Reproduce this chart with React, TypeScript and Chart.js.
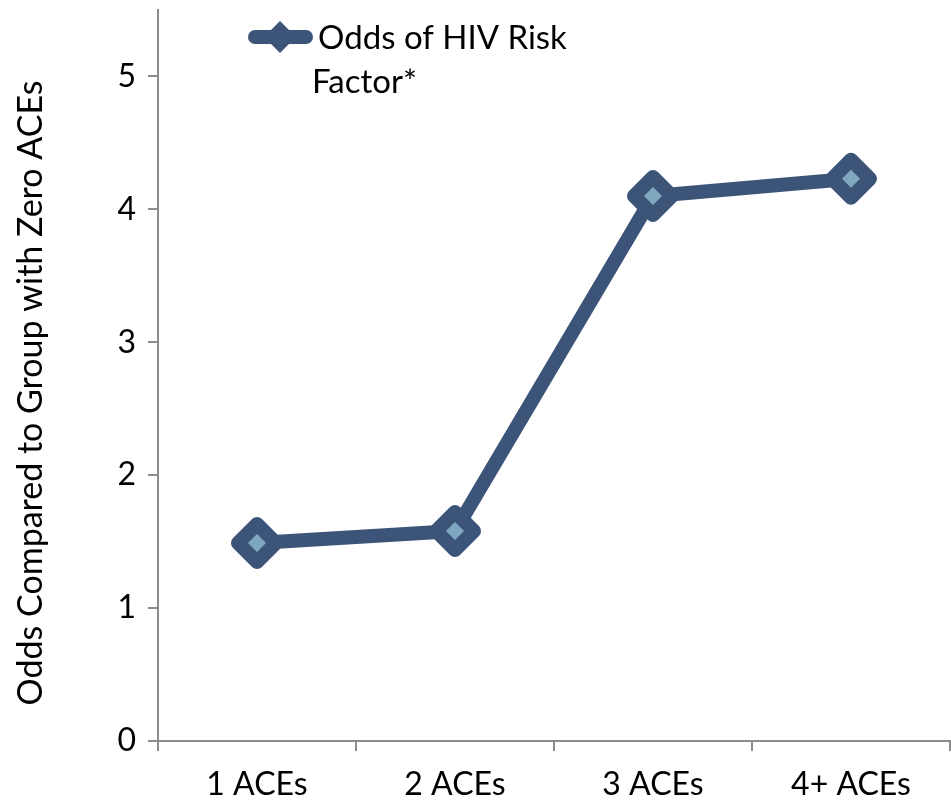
import React, { useEffect, useRef } from "react";
import { Chart, registerables } from "chart.js";

Chart.register(...registerables);

const categories = ["1 ACEs", "2 ACEs", "3 ACEs", "4+ ACEs"];
const oddsValues = [1.49, 1.58, 4.1, 4.23];
const seriesLabel = ["Odds of HIV Risk", "Factor*"];
const yTitle = "Odds Compared to Group with Zero ACEs";

const DARK = "#3B5478";
const LIGHT = "#7FA7BF";
const AXIS = "#8C8C8C";
const FONT = "Lato, 'Open Sans', sans-serif";

export default function App() {
  const ref = useRef<HTMLCanvasElement | null>(null);
  useEffect(() => {
    document.body.style.margin = "0";
    const legendPlugin = {
      id: "customLegend",
      beforeDatasetsDraw(chart: any) {
        chart.ctx.lineJoin = "round";
      },
      afterDraw(chart: any) {
        const ctx = chart.ctx;
        ctx.save();
        ctx.lineJoin = "round";
        ctx.lineCap = "round";
        ctx.strokeStyle = DARK;
        ctx.lineWidth = 14;
        ctx.beginPath();
        ctx.moveTo(255, 37);
        ctx.lineTo(306, 37);
        ctx.stroke();
        ctx.fillStyle = DARK;
        ctx.beginPath();
        ctx.moveTo(280, 21);
        ctx.lineTo(296, 37);
        ctx.lineTo(280, 53);
        ctx.lineTo(264, 37);
        ctx.closePath();
        ctx.fill();
        ctx.fillStyle = "#000";
        ctx.font = `33px ${FONT}`;
        ctx.textBaseline = "middle";
        ctx.fillText(seriesLabel[0], 318, 38);
        ctx.fillText(seriesLabel[1], 312, 82);
        // y-axis title
        ctx.translate(31, 393);
        ctx.rotate(-Math.PI / 2);
        ctx.textAlign = "center";
        ctx.font = `34px ${FONT}`;
        ctx.fillText(yTitle, 0, 0);
        ctx.restore();
      },
    };
    const chart = new Chart(ref.current!, {
      type: "line",
      data: {
        labels: categories,
        datasets: [
          {
            label: seriesLabel.join(" "),
            data: oddsValues,
            borderColor: DARK,
            borderWidth: 14,
            backgroundColor: LIGHT,
            pointStyle: "rectRot",
            pointRadius: 19,
            pointBorderWidth: 14,
            pointBorderColor: DARK,
            pointBackgroundColor: LIGHT,
            borderJoinStyle: "round",
            tension: 0,
            clip: false,
          },
        ],
      },
      options: {
        animation: false,
        responsive: false,
        maintainAspectRatio: false,
        layout: { autoPadding: false, padding: { top: 10, right: 1, left: 0, bottom: 0 } },
        plugins: { legend: { display: false }, tooltip: { enabled: false } },
        scales: {
          x: {
            offset: true,
            grid: {
              offset: true,
              drawOnChartArea: false,
              drawTicks: true,
              tickLength: 10,
              color: AXIS,
              lineWidth: 2,
            },
            border: { color: AXIS, width: 2 },
            ticks: { color: "#000", font: { family: FONT, size: 32 }, padding: 14 },
            afterFit: (s: any) => {
              s.height = 62;
              s.paddingLeft = 0;
              s.paddingRight = 0;
            },
          },
          y: {
            min: 0,
            max: 5.5,
            grid: {
              drawOnChartArea: false,
              drawTicks: true,
              tickLength: 10,
              color: AXIS,
              lineWidth: 2,
            },
            border: { color: AXIS, width: 2 },
            ticks: { stepSize: 1, color: "#000", font: { family: FONT, size: 32 }, padding: 12 },
            afterBuildTicks: (s: any) => {
              s.ticks = s.ticks.filter((t: any) => Number.isInteger(t.value));
            },
            title: { display: false },
            afterFit: (s: any) => {
              s.width = 158;
              s.paddingTop = 0;
              s.paddingBottom = 0;
            },
          },
        },
      },
      plugins: [legendPlugin],
    });
    return () => chart.destroy();
  }, []);
  return <canvas ref={ref} width={951} height={803} style={{ display: "block" }} />;
}
